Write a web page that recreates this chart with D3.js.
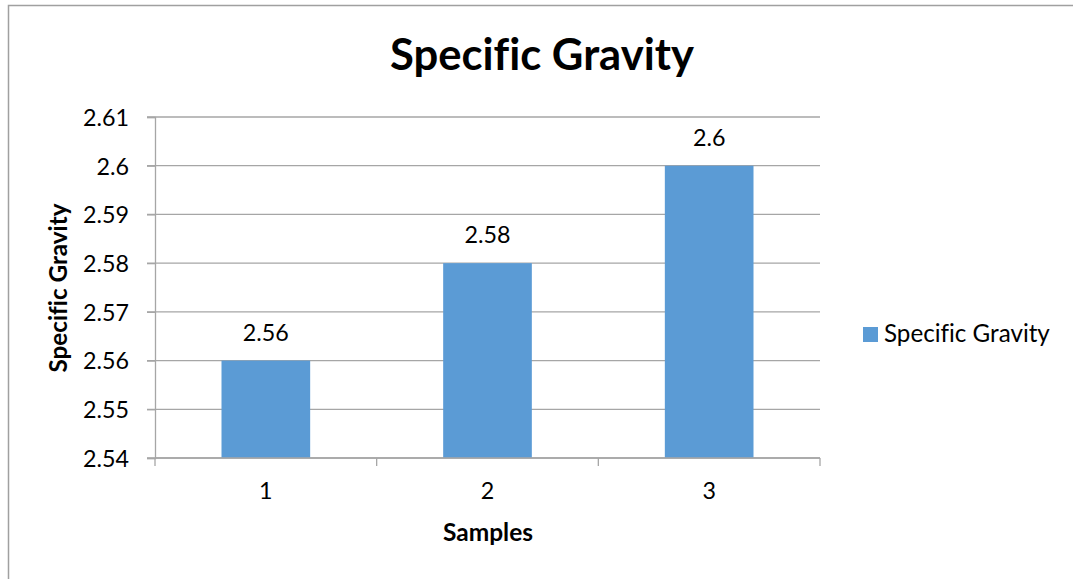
<!DOCTYPE html>
<html>
<head>
<meta charset="utf-8">
<script src="https://cdn.jsdelivr.net/npm/d3@7"></script>
<style>
  body { margin: 0; background: #fff; }
  svg text { font-family: Lato, "Open Sans", sans-serif; fill: #000; font-variant-ligatures: none; }
</style>
</head>
<body>
<div class="chart"></div>
<script>
var width = 1073, height = 579

// data
var samples = ["1", "2", "3"]
var gravity = [2.56, 2.58, 2.6]
var yTicks = [2.54, 2.55, 2.56, 2.57, 2.58, 2.59, 2.6, 2.61]
var seriesName = "Specific Gravity"

var barColor = "#5b9bd5", gridColor = "#a6a6a6"

const svg = d3.select('.chart')
  .append('svg')
    .attr('width', width)
    .attr('height', height)

// outer chart border (only top and left are in the frame)
svg.append('path')
  .attr('d', 'M8.5,' + height + 'V5.5H' + width)
  .attr('fill', 'none')
  .attr('stroke', '#a0a0a0')
  .attr('stroke-width', 1.5)

var x = d3.scaleBand()
  .domain(samples)
  .range([155, 820])
  .paddingInner(0.6)
  .paddingOuter(0.3)

var y = d3.scaleLinear()
  .domain([2.54, 2.61])
  .range([458, 117])

// shrink / grow a text so it takes a given width
function fit(sel, target, sample) {
  sel.style('font-size', '20px')
  var node = sample ? sample.node() : sel.node()
  var len = node.getComputedTextLength()
  sel.style('font-size', (20 * target / len) + 'px')
}

// gridlines
svg.append('g')
  .selectAll('line')
  .data(yTicks)
  .enter()
  .append('line')
    .attr('x1', 147).attr('x2', 820)
    .attr('y1', d => y(d)).attr('y2', d => y(d))
    .attr('stroke', gridColor)
    .attr('stroke-width', 1.3)

// bars
svg.append('g')
  .selectAll('rect')
  .data(gravity)
  .enter()
  .append('rect')
    .attr('x', (d, i) => x(samples[i]))
    .attr('width', x.bandwidth())
    .attr('y', d => y(d))
    .attr('height', d => y(2.54) - y(d))
    .attr('fill', barColor)

// y axis
var yAxis = svg.append('g')
  .attr('transform', 'translate(155,0)')
  .call(d3.axisLeft(y).tickValues(yTicks).tickSize(8).tickPadding(18).tickFormat(d3.format('')))
yAxis.select('.domain').attr('stroke', gridColor).attr('stroke-width', 1.3)
yAxis.selectAll('.tick line').attr('stroke', gridColor).attr('stroke-width', 1.3)
yAxis.selectAll('text').attr('fill', '#000').attr('font-family', null).attr('dy', '0.36em')

// x axis
var xEdges = d3.scaleLinear().domain([0, samples.length]).range([155, 820])
var xAxis = svg.append('g')
  .attr('transform', 'translate(0,458)')
xAxis.append('line')
  .attr('x1', 155).attr('x2', 820)
  .attr('stroke', gridColor).attr('stroke-width', 1.3)
xAxis.selectAll('.edge')
  .data(d3.range(samples.length + 1))
  .enter()
  .append('line')
    .attr('x1', d => xEdges(d)).attr('x2', d => xEdges(d))
    .attr('y1', 0).attr('y2', 8)
    .attr('stroke', gridColor).attr('stroke-width', 1.3)
var xLabels = xAxis.selectAll('.xl')
  .data(samples)
  .enter()
  .append('text')
    .attr('x', d => x(d) + x.bandwidth() / 2)
    .attr('y', 41)
    .attr('text-anchor', 'middle')
    .text(d => d)

// data labels
var dataLabels = svg.append('g')
  .selectAll('text')
  .data(gravity)
  .enter()
  .append('text')
    .attr('x', (d, i) => x(samples[i]) + x.bandwidth() / 2)
    .attr('y', d => y(d) - 20)
    .attr('text-anchor', 'middle')
    .text(d => d)

var tickTexts = yAxis.selectAll('text')
var sample = tickTexts.filter(d => d === 2.61)
fit(tickTexts, 46, sample)
var fs = sample.style('font-size')
xLabels.style('font-size', fs)
dataLabels.style('font-size', fs)

// title
var title = svg.append('text')
  .attr('x', 542).attr('y', 70)
  .attr('text-anchor', 'middle')
  .style('font-weight', 'bold')
  .text('Specific Gravity')
fit(title, 304)

// axis titles
var yTitle = svg.append('text')
  .attr('transform', 'translate(67,288) rotate(-90)')
  .attr('text-anchor', 'middle')
  .style('font-weight', 'bold')
  .text('Specific Gravity')
fit(yTitle, 169)

var xTitle = svg.append('text')
  .attr('x', 488).attr('y', 541)
  .attr('text-anchor', 'middle')
  .style('font-weight', 'bold')
  .text('Samples')
fit(xTitle, 90)

// legend
var legend = svg.append('g')
legend.append('rect')
  .attr('x', 863).attr('y', 327)
  .attr('width', 15).attr('height', 15)
  .attr('fill', barColor)
var legendText = legend.append('text')
  .attr('x', 884).attr('y', 342)
  .text(seriesName)
fit(legendText, 166)
</script>
</body>
</html>
